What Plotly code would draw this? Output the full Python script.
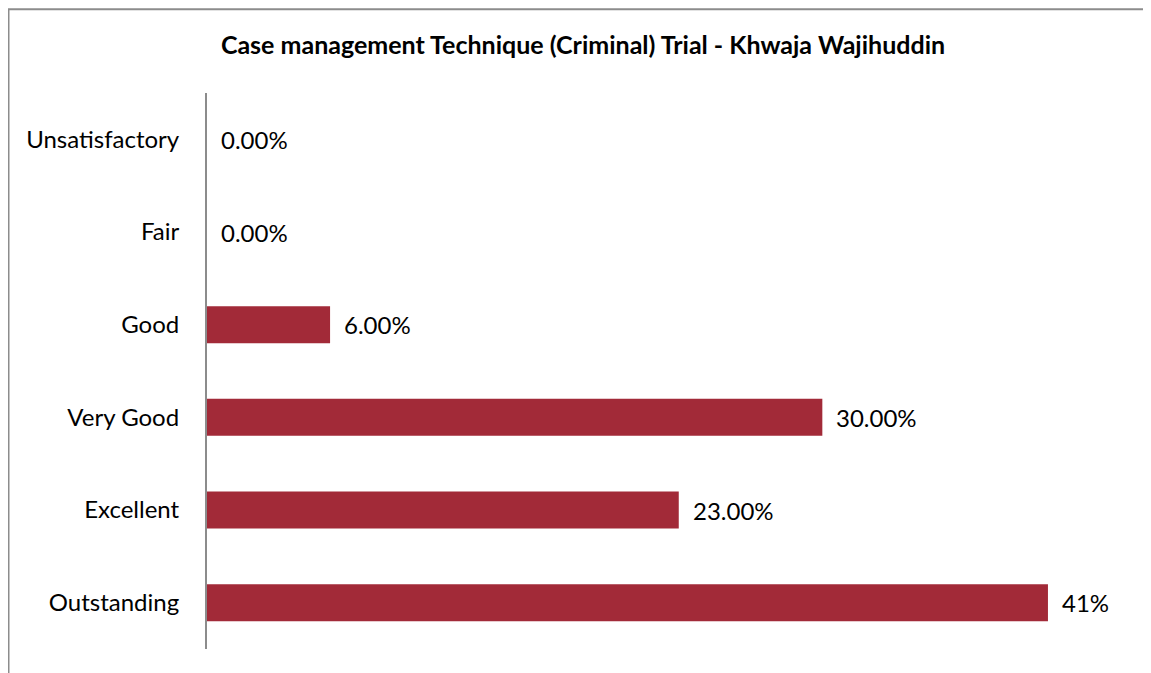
import plotly.graph_objects as go

categories = ["Unsatisfactory", "Fair", "Good", "Very Good", "Excellent", "Outstanding"]
values = [0, 0, 6, 30, 23, 41]
value_labels = ["0.00%", "0.00%", "6.00%", "30.00%", "23.00%", "41%"]
title_text = "Case management Technique (Criminal) Trial - Khwaja Wajihuddin"

# page has an 8px body margin; figure coordinates are page coords minus 8
W, H = 1143, 665
L, R, T, B = 199, 21, 84.5, 23.5
FONT = "Lato"
BAR_COLOR = "#A22A38"

fig = go.Figure()
fig.add_trace(go.Bar(
    x=values, y=categories, orientation="h",
    marker=dict(color=BAR_COLOR, line=dict(width=0)),
    hoverinfo="skip",
))

for c, v, lab in zip(categories, values, value_labels):
    fig.add_annotation(x=v, y=c, text=lab, showarrow=False, xanchor="left",
                       xshift=12, font=dict(family=FONT, size=24, color="#000000"))

pw = W - L - R
ph = H - T - B
x0 = (0.5 - L) / pw
y_top = (H - B - 0.5) / ph
fig.add_shape(type="path", xref="paper", yref="paper",
              path=f"M {x0},-0.2 L {x0},{y_top} L 1.2,{y_top}",
              line=dict(color="#8c8c8c", width=2))

fig.update_layout(
    width=W, height=H,
    margin=dict(l=L, r=R, t=T, b=B, pad=0),
    paper_bgcolor="white", plot_bgcolor="white",
    bargap=0.6,
    showlegend=False,
    title=dict(text=f"<b>{title_text}</b>", x=575 / W, xanchor="center",
               y=1 - 37 / H, yanchor="middle", yref="container",
               font=dict(family=FONT, size=25, color="#000000")),
    xaxis=dict(range=[0, 45], showgrid=False, zeroline=False, showticklabels=False,
               showline=False, ticks=""),
    yaxis=dict(categoryorder="array", categoryarray=categories[::-1],
               showgrid=False, zeroline=False, showline=True, linecolor="#8c8c8c",
               linewidth=2, ticks="", ticklabelstandoff=21,
               tickfont=dict(family=FONT, size=24, color="#000000")),
)

fig.write_html("out.html")
